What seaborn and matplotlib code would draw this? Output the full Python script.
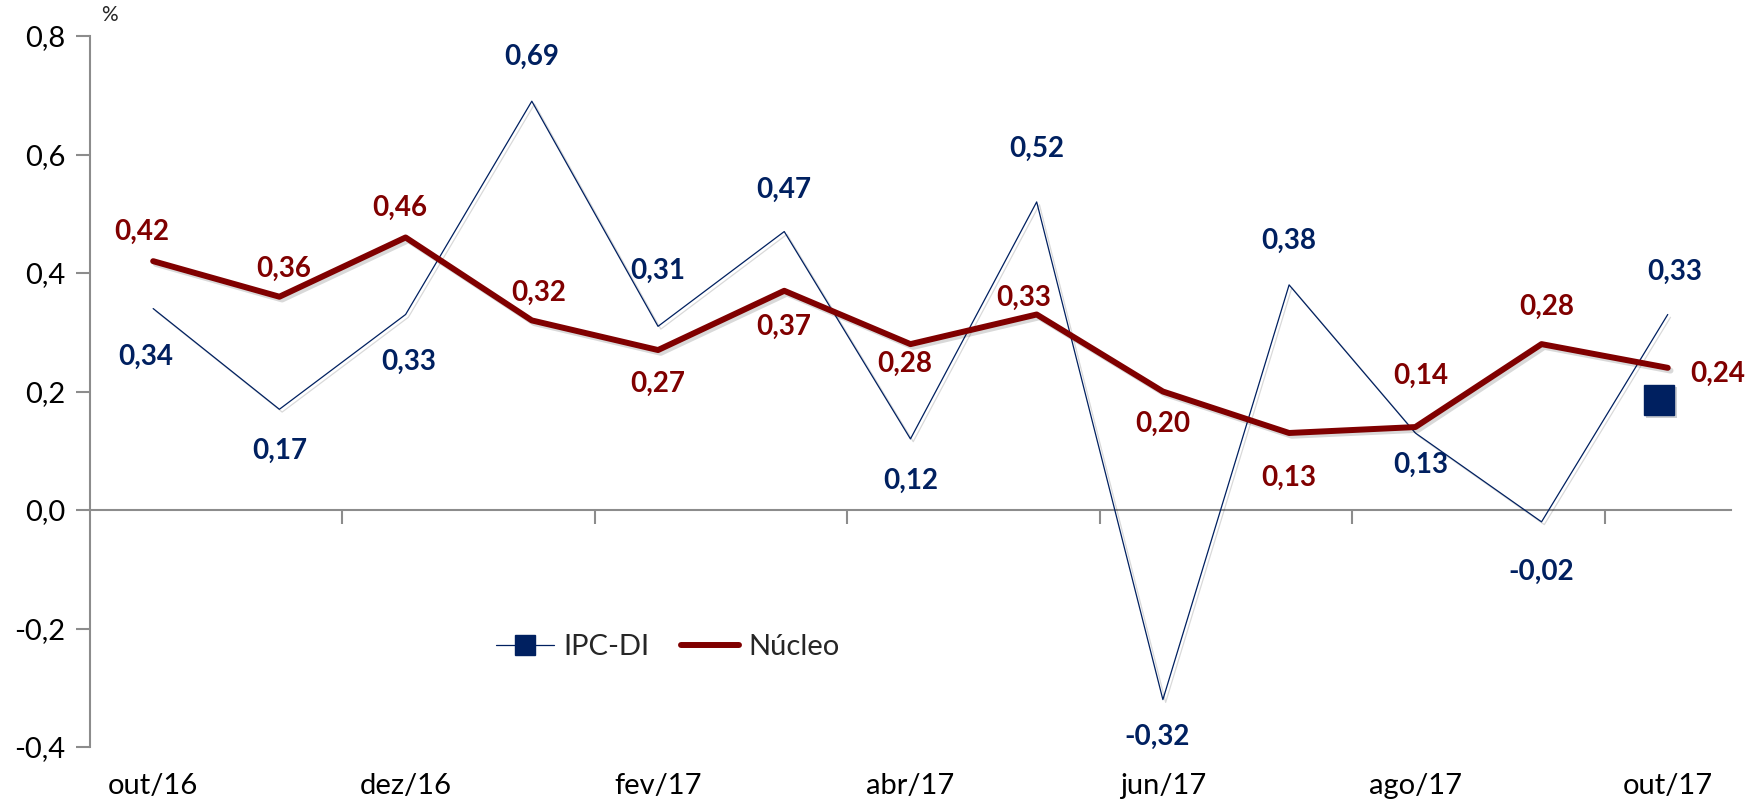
import numpy as np
import pandas as pd
import matplotlib
matplotlib.use("Agg")
import matplotlib.pyplot as plt
import matplotlib.patheffects as pe
from matplotlib.lines import Line2D
from matplotlib.ticker import FuncFormatter
import seaborn as sns

MONTHS = ["out/16", "nov/16", "dez/16", "jan/17", "fev/17", "mar/17", "abr/17",
          "mai/17", "jun/17", "jul/17", "ago/17", "set/17", "out/17"]
IPC_DI = [0.34, 0.17, 0.33, 0.69, 0.31, 0.47, 0.12, 0.52, -0.32, 0.38, 0.13, -0.02, 0.33]
NUCLEO = [0.42, 0.36, 0.46, 0.32, 0.27, 0.37, 0.28, 0.33, 0.20, 0.13, 0.14, 0.28, 0.24]
# stray square marker near the last month in the original chart
EXTRA_X = [11.93]
EXTRA_Y = [0.186]

# label offsets in points (dx, dy)
IPC_OFFS = [(-5, -35), (0, -30), (2, -34), (0, 32), (0, 40), (0, 30), (0, -30),
            (0, 38), (-4, -27), (0, 32), (4, -23), (0, -36), (5, 31)]
NUC_OFFS = [(-8, 21), (3, 20), (-4, 21), (5, 20), (0, -24), (0, -26), (-4, -14),
            (-9, 12), (0, -23), (0, -32), (4, 37), (4, 27), (36, -4)]

NAVY = "#002060"
RED = "#800000"
GREY = "#8c8c8c"

sns.set_theme(style="white")
plt.rcParams["font.family"] = ["Lato", "DejaVu Sans"]

df = pd.DataFrame({"x": np.arange(len(MONTHS)), "ipc": IPC_DI, "nuc": NUCLEO})

fig = plt.figure(figsize=(17.59, 8.06), dpi=100)
ax = fig.add_axes([0.0512, 0.0732, 0.9328, 0.8821])

shadow = [pe.SimpleLineShadow(offset=(2, -2), alpha=0.15, shadow_color="black"), pe.Normal()]

sns.lineplot(data=df, x="x", y="ipc", ax=ax, color=NAVY, lw=0.9, path_effects=shadow, legend=False)
sns.lineplot(data=df, x="x", y="nuc", ax=ax, color=RED, lw=4.3, path_effects=shadow,
             solid_capstyle="round", legend=False)
ax.plot(EXTRA_X, EXTRA_Y, ls="none", marker="s", ms=22, color=NAVY, mec=NAVY,
        path_effects=[pe.SimplePatchShadow(offset=(2, -2), alpha=0.2), pe.Normal()])

for i, (v, (dx, dy)) in enumerate(zip(IPC_DI, IPC_OFFS)):
    ax.annotate(f"{v:.2f}".replace(".", ","), (i, v), xytext=(dx, dy),
                textcoords="offset points", ha="center", va="center",
                fontsize=20, fontweight="bold", color=NAVY)
for i, (v, (dx, dy)) in enumerate(zip(NUCLEO, NUC_OFFS)):
    ax.annotate(f"{v:.2f}".replace(".", ","), (i, v), xytext=(dx, dy),
                textcoords="offset points", ha="center", va="center",
                fontsize=20, fontweight="bold", color=RED)

ax.set_xlim(-0.5, len(MONTHS) - 0.5)
ax.set_ylim(-0.4, 0.8)
ax.set_yticks(np.arange(-0.4, 0.81, 0.2))
ax.yaxis.set_major_formatter(FuncFormatter(lambda v, p: f"{v:.1f}".replace(".", ",").replace("-0,0", "0,0")))
ax.set_xticks(range(0, len(MONTHS), 2))
ax.set_xticklabels(MONTHS[::2])
ax.set_xlabel("")
ax.set_ylabel("")

for s in ["top", "right", "bottom"]:
    ax.spines[s].set_visible(False)
ax.spines["left"].set_color(GREY)
ax.spines["left"].set_linewidth(1.5)
ax.tick_params(axis="y", left=True, length=10, width=1.5, color=GREY, labelsize=21, pad=8, labelcolor="black")
ax.tick_params(axis="x", bottom=False, labelsize=21, pad=13, labelcolor="black")

# zero line with category-boundary ticks
sec = ax.secondary_xaxis(0.4 / 1.2)
sec.set_xticks(np.arange(1.5, len(MONTHS) - 1, 2))
sec.set_xticklabels([])
sec.spines["bottom"].set_color(GREY)
sec.spines["bottom"].set_linewidth(1.5)
sec.tick_params(axis="x", length=10, width=1.5, color=GREY, direction="out")

ax.text(-0.35, 0.835, "%", fontsize=15, ha="center", va="center")

handles = [Line2D([], [], color=NAVY, lw=0.9, marker="s", ms=14),
           Line2D([], [], color=RED, lw=4.3, solid_capstyle="round")]
ax.legend(handles, ["IPC-DI", "Núcleo"], loc="center", bbox_to_anchor=(0.352, 0.141),
          ncol=2, frameon=False, fontsize=21, handlelength=2.0, columnspacing=1.1,
          handletextpad=0.3)

fig.savefig("out.png", dpi=100)
